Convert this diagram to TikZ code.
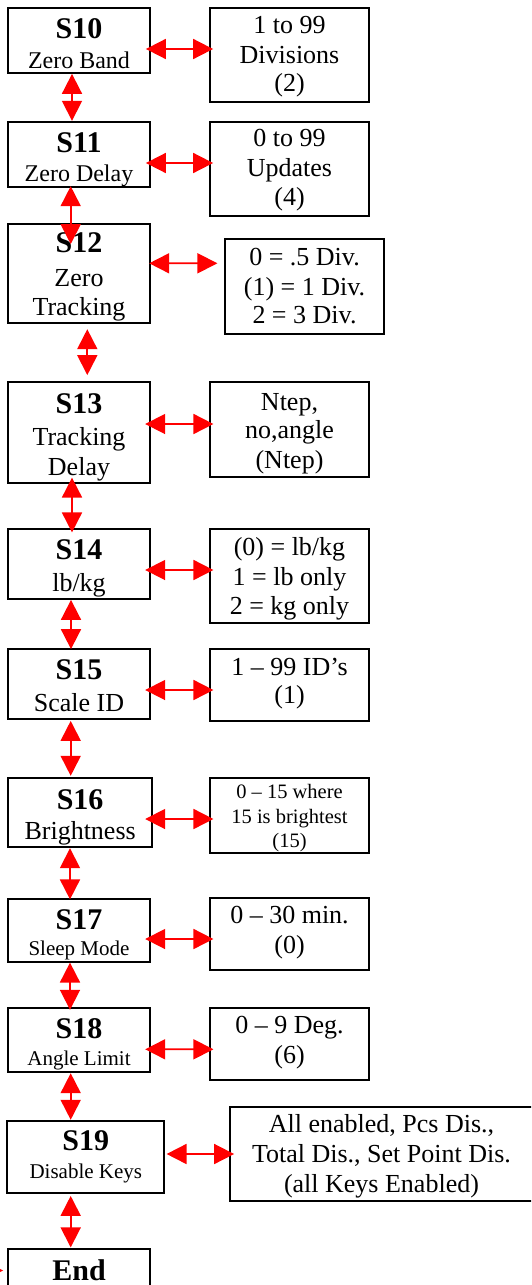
\documentclass[tikz,border=0pt]{standalone}
\usepackage{fontspec}
\setmainfont{Liberation Serif}
\usetikzlibrary{arrows.meta}
\newcommand\shd[1]{{\fontsize{30}{30}\selectfont\bfseries #1}}
\begin{document}
\begin{tikzpicture}[x=1pt,y=-1pt,
  box/.style={draw=black, line width=1.8pt, inner sep=0pt, align=center, font=\fontsize{26}{30}\selectfont},
  tb/.style={text height=#1pt, text depth=2pt},
  conn/.style={draw=red, line width=1.8pt, {Triangle[length=20pt,width=20pt]}-{Triangle[length=20pt,width=20pt]}},
  inarrow/.style={draw=red, line width=1.8pt, -{Triangle[length=20pt,width=20pt]}}
  ]
\useasboundingbox (0,0) rectangle (531,1285);
\clip (0,0) rectangle (531,1285);
\fill[white] (0,0) rectangle (531,1285);

% left column
\node[box, minimum width=142pt, minimum height=65pt, tb=57.6] (S10) at (79,40.5)
  {\shd{S10}\\{\fontsize{24}{30}\selectfont Zero Band}};
\node[box, minimum width=142pt, minimum height=65.3pt, tb=56.7] (S11) at (79,154.35)
  {\shd{S11}\\[-1pt]{\fontsize{24}{30}\selectfont Zero Delay}};
\node[box, minimum width=142pt, minimum height=98.7pt, tb=85.3] (S12) at (79,273.35)
  {\shd{S12}\\[4pt]Zero\\[-1pt]Tracking};
\node[box, minimum width=142pt, minimum height=101pt, tb=86.4] (S13) at (79,432.8)
  {\shd{S13}\\[2pt]Tracking\\Delay};
\node[box, minimum width=142pt, minimum height=69.7pt, tb=57.1] (S14) at (79,564.15)
  {\shd{S14}\\[2pt]lb/kg};
\node[box, minimum width=142pt, minimum height=70.3pt, tb=57.1] (S15) at (79,684.15)
  {\shd{S15}\\[2pt]Scale ID};
\node[box, minimum width=144.3pt, minimum height=69pt, tb=55] (S16) at (80.15,812.8)
  {\shd{S16}\\Brightness};
\node[box, minimum width=142pt, minimum height=62.4pt, tb=51] (S17) at (79,930.5)
  {\shd{S17}\\[-4.3pt]{\fontsize{21}{30}\selectfont Sleep Mode}};
\node[box, minimum width=142pt, minimum height=64pt, tb=51.4] (S18) at (79,1040.3)
  {\shd{S18}\\[-3.3pt]{\fontsize{21}{30}\selectfont Angle Limit}};
\node[box, minimum width=157pt, minimum height=72.6pt, tb=44.6] (S19) at (85.8,1157)
  {\shd{S19}\\[-2.4pt]{\fontsize{21}{30}\selectfont Disable Keys}};
\node[box, minimum width=142pt, minimum height=72pt, text height=9.4pt, text depth=20pt] (End) at (79,1285.3)
  {\shd{End}};

% right column
\node[box, minimum width=159pt, minimum height=93.7pt, tb=75.7] (R10) at (289.5,54.85)
  {1 to 99\\Divisions\\[-1.6pt](2)};
\node[box, minimum width=159pt, minimum height=94.3pt, tb=74.3] (R11) at (289.5,168.85)
  {0 to 99\\Updates\\[-1.7pt](4)};
\node[box, minimum width=159pt, minimum height=95.3pt, tb=75.3] (R12) at (304.5,286.65)
  {0 = .5 Div.\\(1) = 1 Div.\\[-1.7pt]2 = 3 Div.};
\node[box, minimum width=159pt, minimum height=94.4pt, tb=79.6] (R13) at (289.5,429.5)
  {Ntep,\\[-1.7pt]no,angle\\(Ntep)};
\node[box, minimum width=159pt, minimum height=93.4pt, tb=78] (R14) at (289.5,576)
  {(0) = lb/kg\\1 = lb only\\[-1pt]2 = kg only};
\node[box, minimum width=159pt, minimum height=72pt, tb=38.6] (R15) at (289.5,685)
  {1 – 99 ID’s\\[-1.7pt](1)};
\node[box, minimum width=159pt, minimum height=74.4pt, tb=65.6, font=\fontsize{20.5}{25}\selectfont] (R16) at (289.5,815.5)
  {0 – 15 where\\15 is brightest\\[-1pt](15)};
\node[box, minimum width=159pt, minimum height=72.3pt, tb=40.9] (R17) at (289.5,933.85)
  {0 – 30 min.\\(0)};
\node[box, minimum width=159pt, minimum height=71.7pt, tb=40.3] (R18) at (289.5,1044.15)
  {0 – 9 Deg.\\(6)};
\node[box, minimum width=303pt, minimum height=94pt, tb=78.6] (R19) at (381.5,1153.7)
  {All enabled, Pcs Dis.,\\Total Dis., Set Point Dis.\\(all Keys Enabled)};

% horizontal connectors
\draw[conn, shorten <=-5pt, shorten >=-4pt] ([yshift=-8.5pt]S10.east) -- ([yshift=5.85pt]R10.west);
\draw[conn, shorten <=-5pt, shorten >=-4pt] ([yshift=-8.65pt]S11.east) -- ([yshift=5.85pt]R11.west);
\draw[conn, shorten <=-1.7pt, shorten >=6.7pt] ([yshift=10.05pt]S12.east) -- ([yshift=23.35pt]R12.west);
\draw[conn, shorten <=-5.7pt, shorten >=-4.3pt] ([yshift=8.8pt]S13.east) -- ([yshift=5.5pt]R13.west);
\draw[conn, shorten <=-5.7pt, shorten >=-4.3pt] ([yshift=-5.85pt]S14.east) -- ([yshift=6pt]R14.west);
\draw[conn, shorten <=-5.7pt, shorten >=-4.3pt] ([yshift=-5.85pt]S15.east) -- ([yshift=-5pt]R15.west);
\draw[conn, shorten <=-8pt, shorten >=-4.3pt] ([yshift=-6.2pt]S16.east) -- ([yshift=-3.5pt]R16.west);
\draw[conn, shorten <=-5.7pt, shorten >=-4.3pt] ([yshift=-8.5pt]S17.east) -- ([yshift=-5.15pt]R17.west);
\draw[conn, shorten <=-5.7pt, shorten >=-4.3pt] ([yshift=-9pt]S18.east) -- ([yshift=-5.15pt]R18.west);
\draw[conn, shorten <=1.4pt, shorten >=-5pt] ([yshift=3pt]S19.east) -- ([yshift=-0.3pt]R19.west);

% vertical connectors
\draw[conn] ([xshift=-7pt]S10.south) -- ([xshift=-7pt]S11.north);
\draw[conn, shorten <=-1.7pt, shorten >=-21pt] ([xshift=-8.3pt]S11.south) -- ([xshift=-8.3pt]S12.north);
\draw[conn, shorten <=5.6pt, shorten >=6.3pt] ([xshift=8.3pt]S12.south) -- ([xshift=8.3pt]S13.north);
\draw[conn, shorten <=-6.6pt, shorten >=-4pt] ([xshift=-7pt]S13.south) -- ([xshift=-7pt]S14.north);
\draw[conn, shorten >=-1pt] ([xshift=-8pt]S14.south) -- ([xshift=-8pt]S15.north);
\draw[conn, shorten <=0.7pt, shorten >=1.6pt] ([xshift=-8.3pt]S15.south) -- ([xshift=-9.45pt]S16.north);
\draw[conn, shorten >=-1pt] ([xshift=-10.15pt]S16.south) -- ([xshift=-9pt]S17.north);
\draw[conn, shorten >=-2.4pt] ([xshift=-9pt]S17.south) -- ([xshift=-9pt]S18.north);
\draw[conn] ([xshift=-8.3pt]S18.south) -- ([xshift=-15.1pt]S19.north);
\draw[conn, shorten <=1.7pt, shorten >=1pt] ([xshift=-15.1pt]S19.south) -- ([xshift=-8.3pt]End.north);

% incoming arrow at End (only its tip is visible)
\coordinate (inL) at (-60,1270.5);
\draw[inarrow, shorten >=4pt] (inL) -- (inL -| End.west);
\end{tikzpicture}
\end{document}
